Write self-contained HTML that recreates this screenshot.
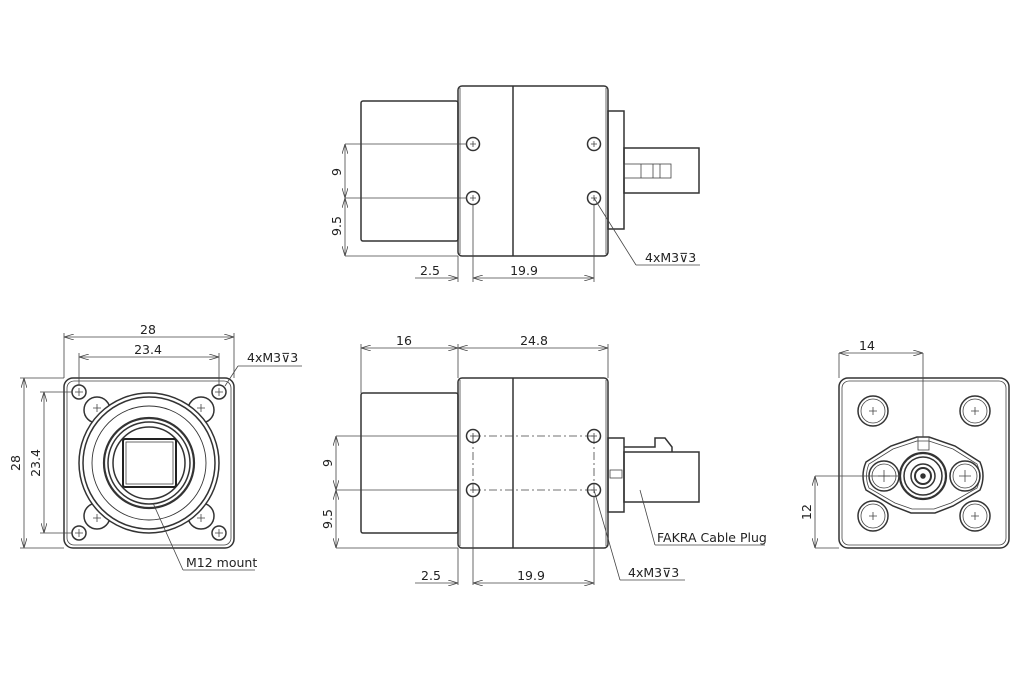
<!DOCTYPE html>
<html><head><meta charset="utf-8"><style>
html,body{margin:0;padding:0;background:#fff}
svg{display:block}
text{font-family:"DejaVu Sans","Liberation Sans",sans-serif;font-size:12.5px;fill:#222}
.o{fill:none;stroke:#333;stroke-width:1.5}
.t{fill:none;stroke:#444;stroke-width:0.8}
.d{fill:none;stroke:#444;stroke-width:0.8;stroke-dasharray:8 3 2 3}
</style></head><body>
<svg width="1030" height="700" viewBox="0 0 1030 700" xmlns="http://www.w3.org/2000/svg">
<defs>
<marker id="a" viewBox="0 0 10 6" refX="10" refY="3" markerWidth="10" markerHeight="6" orient="auto-start-reverse" markerUnits="userSpaceOnUse"><path d="M0,0 L10,3 L0,6" fill="none" stroke="#444" stroke-width="0.8"/></marker>
</defs>

<!-- ===== TOP VIEW ===== -->
<rect class="o" x="361" y="101" width="97" height="140" rx="2"/>
<rect class="o" x="458" y="86" width="150" height="170" rx="4"/>
<line class="o" x1="513" y1="86" x2="513" y2="256" stroke-width="2.2"/>
<line class="t" x1="460" y1="88" x2="460" y2="254"/>
<line class="t" x1="606" y1="88" x2="606" y2="254"/>
<rect class="o" x="608" y="111" width="16" height="118"/>
<rect class="o" x="624" y="148" width="75" height="45"/>
<rect class="t" x="624" y="164" width="47" height="14"/>
<line class="t" x1="641" y1="164" x2="641" y2="178"/><line class="t" x1="653" y1="164" x2="653" y2="178"/><line class="t" x1="660" y1="164" x2="660" y2="178"/>
<g class="o" stroke-width="1.8"><circle cx="473" cy="144" r="6.5"/><circle cx="473" cy="198" r="6.5"/><circle cx="594" cy="144" r="6.5"/><circle cx="594" cy="198" r="6.5"/></g>
<g class="t"><path d="M470,144h6M473,141v6M591,144h6M594,141v6M470,198h6M473,195v6M591,198h6M594,195v6"/>
<line x1="345" y1="144" x2="467" y2="144"/><line x1="345" y1="198" x2="467" y2="198"/><line x1="345" y1="256" x2="458" y2="256"/>
<line x1="473" y1="204" x2="473" y2="282"/><line x1="594" y1="204" x2="594" y2="282"/><line x1="458" y1="256" x2="458" y2="282"/>
<line x1="594" y1="198" x2="636" y2="265"/><line x1="636" y1="265" x2="700" y2="265"/>
<line x1="415" y1="278" x2="458" y2="278" marker-end="url(#a)"/>
</g>
<line class="t" x1="345" y1="144" x2="345" y2="198" marker-start="url(#a)" marker-end="url(#a)"/>
<line class="t" x1="345" y1="198" x2="345" y2="256" marker-start="url(#a)" marker-end="url(#a)"/>
<line class="t" x1="473" y1="278" x2="594" y2="278" marker-start="url(#a)" marker-end="url(#a)"/>
<text transform="translate(345,172) rotate(-90)" text-anchor="middle" dy="-4">9</text>
<text transform="translate(345,226) rotate(-90)" text-anchor="middle" dy="-4">9.5</text>
<text x="430" y="275" text-anchor="middle">2.5</text>
<text x="524" y="275" text-anchor="middle">19.9</text>
<text x="645" y="262">4xM3⊽3</text>

<!-- ===== SIDE VIEW ===== -->
<rect class="o" x="361" y="393" width="97" height="140" rx="2"/>
<rect class="o" x="458" y="378" width="150" height="170" rx="4"/>
<line class="o" x1="513" y1="378" x2="513" y2="548" stroke-width="2.2"/>
<line class="t" x1="460" y1="380" x2="460" y2="546"/>
<line class="t" x1="606" y1="380" x2="606" y2="546"/>
<rect class="o" x="608" y="438" width="16" height="74"/>
<rect class="t" x="610" y="470" width="12" height="8"/>
<rect class="o" x="624" y="452" width="75" height="50"/>
<path class="o" d="M624,447 H655 V438 H665 L672,447 V452"/>
<path class="d" d="M473,436 H594 M473,490 H594 M473,436 V490 M594,436 V490"/>
<g class="o" stroke-width="1.8"><circle cx="473" cy="436" r="6.5"/><circle cx="473" cy="490" r="6.5"/><circle cx="594" cy="436" r="6.5"/><circle cx="594" cy="490" r="6.5"/></g>
<g class="t"><path d="M470,436h6M473,433v6M591,436h6M594,433v6M470,490h6M473,487v6M591,490h6M594,487v6"/>
<line x1="336" y1="436" x2="458" y2="436"/><line x1="336" y1="490" x2="458" y2="490"/><line x1="336" y1="548" x2="458" y2="548"/>
<line x1="361" y1="344" x2="361" y2="393"/><line x1="458" y1="344" x2="458" y2="378"/><line x1="608" y1="344" x2="608" y2="378"/>
<line x1="473" y1="496" x2="473" y2="585"/><line x1="594" y1="496" x2="594" y2="585"/><line x1="458" y1="548" x2="458" y2="585"/>
<line x1="594" y1="490" x2="620" y2="580"/><line x1="620" y1="580" x2="685" y2="580"/>
<line x1="640" y1="490" x2="655" y2="545"/><line x1="655" y1="545" x2="765" y2="545"/>
<line x1="415" y1="583" x2="458" y2="583" marker-end="url(#a)"/>
</g>
<line class="t" x1="361" y1="348" x2="458" y2="348" marker-start="url(#a)" marker-end="url(#a)"/>
<line class="t" x1="458" y1="348" x2="608" y2="348" marker-start="url(#a)" marker-end="url(#a)"/>
<line class="t" x1="336" y1="436" x2="336" y2="490" marker-start="url(#a)" marker-end="url(#a)"/>
<line class="t" x1="336" y1="490" x2="336" y2="548" marker-start="url(#a)" marker-end="url(#a)"/>
<line class="t" x1="473" y1="583" x2="594" y2="583" marker-start="url(#a)" marker-end="url(#a)"/>
<text x="404" y="345" text-anchor="middle">16</text>
<text x="534" y="345" text-anchor="middle">24.8</text>
<text transform="translate(336,463) rotate(-90)" text-anchor="middle" dy="-4">9</text>
<text transform="translate(336,519) rotate(-90)" text-anchor="middle" dy="-4">9.5</text>
<text x="431" y="580" text-anchor="middle">2.5</text>
<text x="531" y="580" text-anchor="middle">19.9</text>
<text x="628" y="577">4xM3⊽3</text>
<text x="657" y="542">FAKRA Cable Plug</text>

<!-- ===== FRONT VIEW ===== -->
<rect class="o" x="64" y="378" width="170" height="170" rx="9"/>
<rect class="t" x="67" y="381" width="164" height="164" rx="7"/>
<g class="o" stroke-width="1.8">
<circle cx="79" cy="392" r="7"/><circle cx="219" cy="392" r="7"/><circle cx="79" cy="533" r="7"/><circle cx="219" cy="533" r="7"/>
</g>
<g class="o">
<circle cx="97" cy="410" r="13"/><circle cx="201" cy="410" r="13"/><circle cx="97" cy="516" r="13"/><circle cx="201" cy="516" r="13"/>
</g>
<g class="t"><path d="M93,408h8M97,404v8M197,408h8M201,404v8M93,518h8M97,514v8M197,518h8M201,514v8"/></g>
<circle cx="149" cy="463" r="70" fill="#fff" stroke="#333" stroke-width="1.5"/>
<g class="o">
<circle cx="149" cy="463" r="66"/><circle cx="149" cy="463" r="57" stroke-width="0.9"/>
<circle cx="149" cy="463" r="45" stroke-width="2.2"/><circle cx="149" cy="463" r="41"/><circle cx="149" cy="463" r="36"/>
</g>
<rect x="123" y="439" width="53" height="48" rx="2" fill="none" stroke="#222" stroke-width="2"/>
<rect x="126" y="442" width="47" height="42" fill="none" stroke="#444" stroke-width="0.8"/>
<g class="t"><path d="M75,392h8M79,388v8M215,392h8M219,388v8M75,533h8M79,529v8M215,533h8M219,529v8"/>
<path d="M64,378V333M234,378V333M79,385V353M219,385V353M64,378H20M64,548H20M72,392H40M72,533H40"/>
<line x1="225" y1="386" x2="238" y2="366"/><line x1="238" y1="366" x2="302" y2="366"/>
<line x1="153" y1="503" x2="183" y2="570"/><line x1="183" y1="570" x2="255" y2="570"/>
</g>
<line class="t" x1="64" y1="337" x2="234" y2="337" marker-start="url(#a)" marker-end="url(#a)"/>
<line class="t" x1="79" y1="357" x2="219" y2="357" marker-start="url(#a)" marker-end="url(#a)"/>
<line class="t" x1="24" y1="378" x2="24" y2="548" marker-start="url(#a)" marker-end="url(#a)"/>
<line class="t" x1="44" y1="392" x2="44" y2="533" marker-start="url(#a)" marker-end="url(#a)"/>
<text x="148" y="334" text-anchor="middle">28</text>
<text x="148" y="354" text-anchor="middle">23.4</text>
<text transform="translate(24,463) rotate(-90)" text-anchor="middle" dy="-4">28</text>
<text transform="translate(44,463) rotate(-90)" text-anchor="middle" dy="-4">23.4</text>
<text x="247" y="362">4xM3⊽3</text>
<text x="186" y="567">M12 mount</text>

<!-- ===== BACK VIEW ===== -->
<rect class="o" x="839" y="378" width="170" height="170" rx="9"/>
<rect class="t" x="842" y="381" width="164" height="164" rx="7"/>
<g class="o">
<circle cx="873" cy="411" r="15"/><circle cx="975" cy="411" r="15"/><circle cx="873" cy="516" r="15"/><circle cx="975" cy="516" r="15"/>
</g>
<g class="t">
<circle cx="873" cy="411" r="12"/><circle cx="975" cy="411" r="12"/><circle cx="873" cy="516" r="12"/><circle cx="975" cy="516" r="12"/>
<path d="M869,411h8M873,407v8M971,411h8M975,407v8M869,516h8M873,512v8M971,516h8M975,512v8"/>
</g>
<path class="o" d="M917,437 L891,446 L866,462 Q860,476 866,490 L893,506 L911,513 H935 L953,506 L980,490 Q986,476 980,462 L955,446 L929,437 Z"/>
<path class="t" d="M917,441 L893,449 L869,464 Q864,476 869,488 L895,503 L912,509 H934 L951,503 L977,488 Q982,476 977,464 L953,449 L929,441 Z"/>
<rect class="t" x="918" y="437" width="11" height="13"/>
<g class="o">
<circle cx="884" cy="476" r="15"/><circle cx="965" cy="476" r="15"/>
<circle cx="923" cy="476" r="23" stroke-width="2.2"/><circle cx="923" cy="476" r="19"/><circle cx="923" cy="476" r="12"/><circle cx="923" cy="476" r="8" stroke-width="2"/><circle cx="923" cy="476" r="2" fill="#333"/>
</g>
<g class="t">
<circle cx="884" cy="476" r="12"/><circle cx="965" cy="476" r="12"/>
<path d="M878,476h12M884,470v12M959,476h12M965,470v12"/>
<path d="M923,353V437M839,353V378M815,476H900M815,548H839"/>
</g>
<line class="t" x1="839" y1="353" x2="923" y2="353" marker-start="url(#a)" marker-end="url(#a)"/>
<line class="t" x1="815" y1="476" x2="815" y2="548" marker-start="url(#a)" marker-end="url(#a)"/>
<text x="867" y="350" text-anchor="middle">14</text>
<text transform="translate(815,512) rotate(-90)" text-anchor="middle" dy="-4">12</text>
</svg>
</body></html>
